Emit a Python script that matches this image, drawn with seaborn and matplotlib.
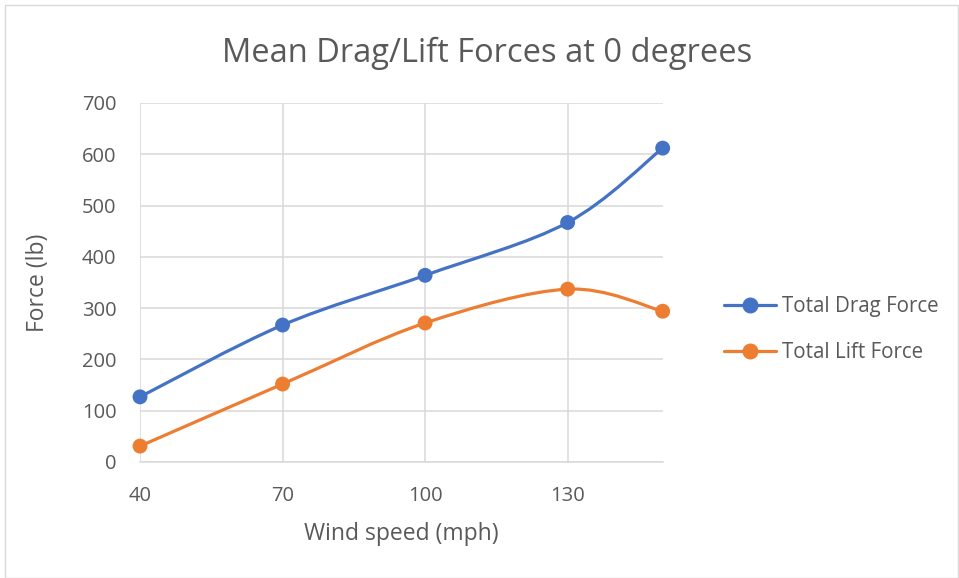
import matplotlib
matplotlib.use("Agg")
import matplotlib.pyplot as plt
from matplotlib.path import Path
from matplotlib.patches import PathPatch, Rectangle
from matplotlib.lines import Line2D
import seaborn as sns
import pandas as pd

# === DATA ===
wind_speed = [40, 70, 100, 130, 150]
drag_force = [127, 267, 364, 467, 612]
lift_force = [31, 152, 271, 337, 294]
series_names = ["Total Drag Force", "Total Lift Force"]
x_ticks = [40, 70, 100, 130]
y_ticks = [0, 100, 200, 300, 400, 500, 600, 700]

BLUE = "#4472C4"
ORANGE = "#ED7D31"
TEXT = "#595959"
GRID = "#D9D9D9"


def smooth_path(xs, ys):
    # Excel-style smoothed line: cubic bezier, catmull-rom control points
    pts = list(zip(xs, ys))
    verts = [pts[0]]
    codes = [Path.MOVETO]
    n = len(pts)
    for i in range(n - 1):
        p0 = pts[i - 1] if i > 0 else pts[i]
        p1 = pts[i]
        p2 = pts[i + 1]
        p3 = pts[i + 2] if i + 2 < n else pts[i + 1]
        c1 = (p1[0] + (p2[0] - p0[0]) / 6, p1[1] + (p2[1] - p0[1]) / 6)
        c2 = (p2[0] - (p3[0] - p1[0]) / 6, p2[1] - (p3[1] - p1[1]) / 6)
        verts += [c1, c2, p2]
        codes += [Path.CURVE4] * 3
    return Path(verts, codes)


df = pd.DataFrame({
    "Wind speed": wind_speed * 2,
    "Force": drag_force + lift_force,
    "Series": [series_names[0]] * len(wind_speed) + [series_names[1]] * len(wind_speed),
})

sns.set_style("white")
plt.rcParams["font.family"] = ["Open Sans", "DejaVu Sans"]

fig = plt.figure(figsize=(9.59, 5.78), dpi=100)
ax = fig.add_axes([0.146, 0.2007, 0.545, 0.6211])

for ys, col in [(drag_force, BLUE), (lift_force, ORANGE)]:
    ax.add_patch(PathPatch(smooth_path(wind_speed, ys), facecolor="none",
                           edgecolor=col, lw=2.3, capstyle="round", zorder=3))

sns.scatterplot(data=df, x="Wind speed", y="Force", hue="Series",
                palette=[BLUE, ORANGE], s=115, edgecolor="none",
                legend=False, zorder=4, ax=ax, clip_on=False)

ax.set_xlim(40, 150)
ax.set_ylim(0, 700)
ax.set_xticks(x_ticks)
ax.set_yticks(y_ticks)
ax.grid(True, color=GRID, lw=1.1)
ax.set_axisbelow(True)
for s in ["top", "right", "left"]:
    ax.spines[s].set_visible(False)
ax.spines["bottom"].set_color(GRID)
ax.spines["bottom"].set_linewidth(1.1)
ax.tick_params(length=0, labelsize=14.5, colors=TEXT)
ax.tick_params(axis="y", pad=17)
ax.tick_params(axis="x", pad=17)

ax.set_xlabel("Wind speed (mph)", fontsize=16.5, color=TEXT, labelpad=12)
ax.set_ylabel("Force (lb)", fontsize=16.5, color=TEXT, labelpad=23)
fig.text(0.508, 0.908, "Mean Drag/Lift Forces at 0 degrees", ha="center",
         va="center", fontsize=23.5, color=TEXT)

handles = [Line2D([], [], color=c, lw=2.3, marker="o", markersize=10.5)
           for c in (BLUE, ORANGE)]
fig.legend(handles, series_names, loc="center left",
           bbox_to_anchor=(0.736, 0.430), frameon=False, fontsize=14.8,
           labelcolor=TEXT, handlelength=2.5, handletextpad=0.3,
           labelspacing=1.2)

fig.patches.append(Rectangle((0.005, 0.0), 0.994, 0.991, transform=fig.transFigure,
                             fill=False, edgecolor="#D9D9D9", lw=1))

fig.savefig("out.png", dpi=100)
